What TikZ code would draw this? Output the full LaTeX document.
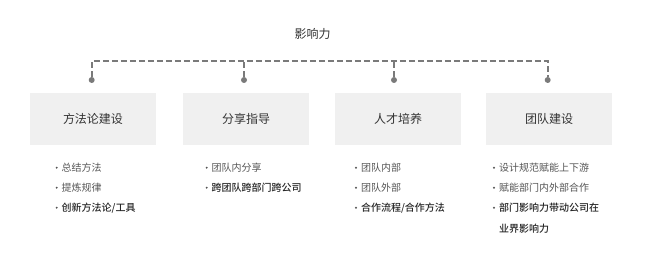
\documentclass[tikz,border=0pt]{standalone}
\usepackage{fontspec}
\setmainfont{Noto Sans CJK SC}[BoldFont={Noto Sans CJK SC Medium}]
\usetikzlibrary{positioning}
\definecolor{linecolor}{HTML}{7A7A7A}
\definecolor{boxcolor}{HTML}{F0F0F0}
\definecolor{textcolor}{HTML}{333333}
\definecolor{itemcolor}{HTML}{555555}

\begin{document}
\begin{tikzpicture}[x=1pt, y=-1pt,
        areabox/.style={fill=boxcolor, minimum width=126pt, minimum height=52pt, inner sep=0pt, text=textcolor, font=\fontsize{12}{14}\selectfont},
        joint/.style={circle, fill=linecolor, minimum size=6pt, inner sep=0pt},
        bus/.style={draw=linecolor, line width=2pt, dash pattern=on 6pt off 3pt},
        bulletdot/.style={circle, fill=itemcolor, minimum size=2.2pt, inner sep=0pt},
        item/.style={anchor=west, inner sep=0pt, text=itemcolor, font=\fontsize{10}{12}\selectfont},
        keyitem/.style={item, text=black!85, font=\fontsize{10}{12}\selectfont\bfseries}
    ]
        \useasboundingbox (0,0) rectangle (646,272);

        \node[text=textcolor, font=\fontsize{12}{14}\selectfont] (title) at (312.5,34) {影响力};

        \foreach \i/\x/\name in {1/93/方法论建设,2/246/分享指导,3/398/人才培养,4/549/团队建设}
            \node[areabox] (area\i) at (\x,119) {\name};

        \foreach \i/\x in {1/91.7,2/244,3/394,4/547.7}
            \node[joint] (joint\i) at (\x,80) {};

        \coordinate (busleft) at (91.7,61);
        \coordinate (busright) at (547.7,61);
        \draw[bus] (joint1) -- (busleft) -- (busright) -- (joint4);
        \draw[bus] (joint2) -- (joint2 |- busleft);
        \draw[bus] (joint3) -- (joint3 |- busleft);

        % bullets
        \foreach \c/\x/\n in {1/56.7/3,2/206.7/2,3/356/3,4/494/3}
            \foreach \r in {1,...,\n}
                \node[bulletdot] (dot\c\r) at (\x,147.7+20*\r) {};

        \node[item, right=3.5pt of dot11] (text11) {总结方法};
        \node[item, right=3.5pt of dot12] (text12) {提炼规律};
        \node[keyitem, right=3.5pt of dot13] (text13) {创新方法论/工具};

        \node[item, right=3.5pt of dot21] (text21) {团队内分享};
        \node[keyitem, right=3.5pt of dot22] (text22) {跨团队跨部门跨公司};

        \node[item, right=3.5pt of dot31] (text31) {团队内部};
        \node[item, right=3.5pt of dot32] (text32) {团队外部};
        \node[keyitem, right=3.5pt of dot33] (text33) {合作流程/合作方法};

        \node[item, right=3.5pt of dot41] (text41) {设计规范赋能上下游};
        \node[item, right=3.5pt of dot42] (text42) {赋能部门内外部合作};
        \node[keyitem, right=3.5pt of dot43] (text43) {部门影响力带动公司在};
        \node[keyitem, anchor=west] (text44) at (text43.west |- 0,228.3) {业界影响力};
    \end{tikzpicture}
\end{document}
